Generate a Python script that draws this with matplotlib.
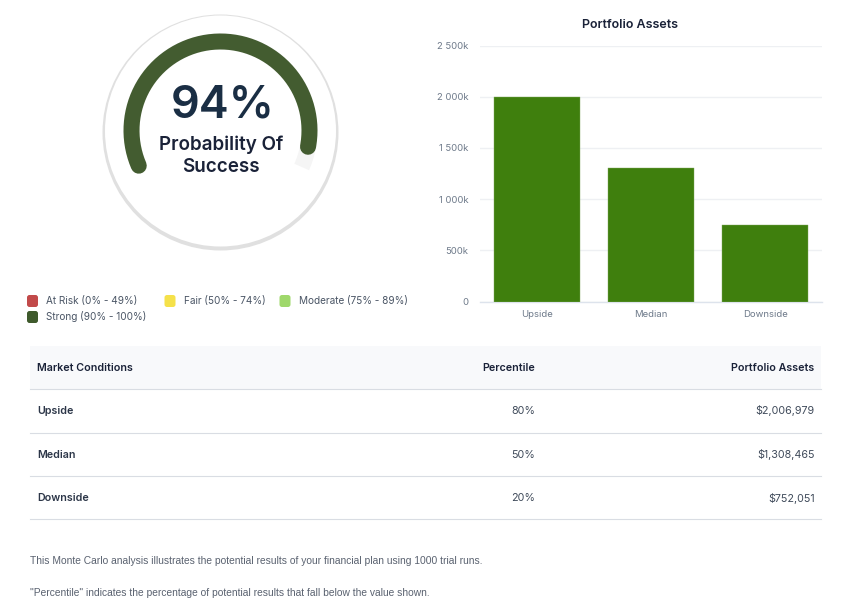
import numpy as np
import matplotlib
matplotlib.use('Agg')
import matplotlib.pyplot as plt
from matplotlib.patches import Circle, FancyBboxPatch, Rectangle

plt.rcParams['font.family'] = ['Inter', 'DejaVu Sans']

W, H = 842, 609

# data
score = 94
gauge_max = 100
score_label = 'Probability Of\nSuccess'
categories = ['Upside', 'Median', 'Downside']
bar_values = [2000000, 1300000, 750000]
y_ticks = [0, 500000, 1000000, 1500000, 2000000, 2500000]
y_labels = ['0', '500k', '1 000k', '1 500k', '2 000k', '2 500k']
legend_names = ['At Risk (0% - 49%)', 'Fair (50% - 74%)', 'Moderate (75% - 89%)', 'Strong (90% - 100%)']
legend_colors = ['#c24a4a', '#f5e14a', '#9fd86b', '#3f5a2c']
table_head = ['Market Conditions', 'Percentile', 'Portfolio Assets']
percentiles = ['80%', '50%', '20%']
assets = ['$2,006,979', '$1,308,465', '$752,051']
notes = ['This Monte Carlo analysis illustrates the potential results of your financial plan using 1000 trial runs.',
         '"Percentile" indicates the percentage of potential results that fall below the value shown.']

fig = plt.figure(figsize=(W / 100, H / 100), dpi=100, facecolor='white')

# page layer in pixel coords, y going down
page = fig.add_axes([0, 0, 1, 1])
page.set_xlim(0, W)
page.set_ylim(H, 0)
page.axis('off')

def px(size):
    return size * 0.72

# gauge
cx, cy, r = 220.5, 130.5, 89
page.add_patch(Circle((cx, 132.5), 118, fc='#e0e0e0', ec='none'))
page.add_patch(Circle((cx, 131), 115.5, fc='white', ec='none'))
start, sweep = 203.3, 227.5
a = np.radians(np.linspace(start, start - sweep, 200))
page.plot(cx + r * np.cos(a), cy - r * np.sin(a), color='#f5f5f5', lw=px(16), solid_capstyle='butt')
a = np.radians(np.linspace(start, start - sweep * score / gauge_max, 200))
page.plot(cx + r * np.cos(a), cy - r * np.sin(a), color='#435c30', lw=px(16), solid_capstyle='round')
page.text(cx + 2, 105.5, f'{score}%', ha='center', va='center', fontsize=px(45), fontweight='semibold', color='#1a2e44')
page.text(cx + 0.5, 155.5, score_label, ha='center', va='center', fontsize=px(18.8), fontweight='semibold',
          color='#1a2238', linespacing=1.3)

# legend
leg_pos = [(32.5, 301), (170, 301), (285, 301), (32.5, 317)]
for name, col, (x, y) in zip(legend_names, legend_colors, leg_pos):
    page.add_patch(FancyBboxPatch((x - 4.5, y - 5), 9, 10, boxstyle='round,pad=1,rounding_size=2.5', fc=col, ec='none'))
    page.text(x + 14, y, name, va='center', fontsize=px(10), color='#4a5565')

# table
page.add_patch(Rectangle((30, 346), 791, 43, fc='#f8f9fb', ec='none'))
for y in [389, 432.5, 475.5, 519]:
    page.plot([30, 821], [y, y], color='#d9dde3', lw=0.8)
page.text(37, 368, table_head[0], va='center', fontsize=px(10.7), fontweight='semibold', color='#1a2238')
page.text(535, 368, table_head[1], va='center', ha='right', fontsize=px(10.7), fontweight='semibold', color='#1a2238')
page.text(814.5, 368, table_head[2], va='center', ha='right', fontsize=px(10.7), fontweight='semibold', color='#1a2238')
for name, pct, val, y in zip(categories, percentiles, assets, [411, 454.5, 498]):
    page.text(37, y, name, va='center', fontsize=px(10.7), fontweight='semibold', color='#2c3648')
    page.text(535, y, pct, va='center', ha='right', fontsize=px(10.7), color='#3f4a5a')
    page.text(814.5, y, val, va='center', ha='right', fontsize=px(10.7), color='#3f4a5a')

page.text(30.5, 561, notes[0], va='center', fontsize=px(10.2), color='#5a6270', family='Liberation Sans')
page.text(30.5, 592.5, notes[1], va='center', fontsize=px(10.2), color='#5a6270', family='Liberation Sans')

# bar chart
x0, x1, y_top, y_bot = 480, 822, 45.5, 301.5
ax = fig.add_axes([x0 / W, 1 - y_bot / H, (x1 - x0) / W, (y_bot - y_top) / H])
ax.patch.set_alpha(0)
ax.bar(range(3), bar_values, width=0.75, color='#3f7f0d', edgecolor='#7fa85c', linewidth=0.3, zorder=3)
ax.set_xlim(-0.5, 2.5)
ax.set_ylim(0, 2500000)
ax.set_xticks(range(3), categories)
ax.set_yticks(y_ticks, y_labels)
ax.grid(axis='y', color='#eef0f3', lw=1)
ax.set_axisbelow(True)
ax.tick_params(length=0, labelsize=px(9.5), colors='#6e7a8a')
ax.tick_params(axis='x', pad=6.2)
ax.tick_params(axis='y', pad=8.5)
for s in ['top', 'left', 'right']:
    ax.spines[s].set_visible(False)
ax.spines['bottom'].set_color('#dde3ec')
ax.spines['bottom'].set_linewidth(1)
page.text(630, 25.5, 'Portfolio Assets', ha='center', va='center', fontsize=px(12.5), fontweight='semibold', color='#1a2238')

fig.savefig('out.png', dpi=100)
